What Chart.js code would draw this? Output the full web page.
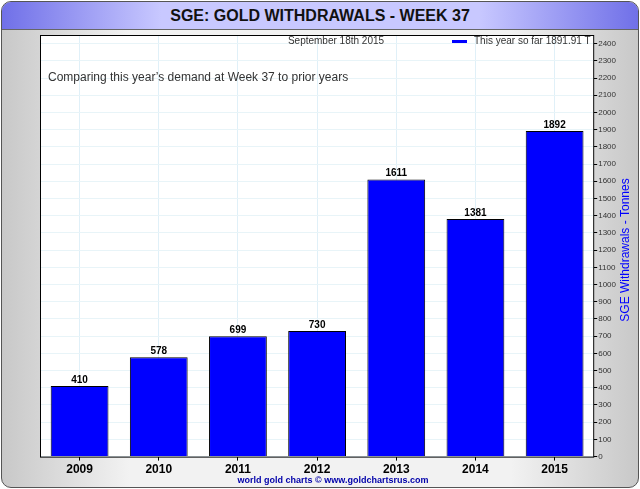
<!DOCTYPE html>
<html><head><meta charset="utf-8">
<script src="https://cdn.jsdelivr.net/npm/chart.js@4/dist/chart.umd.min.js"></script>
<style>
html,body{margin:0;padding:0;width:640px;height:489px;overflow:hidden;background:#fff;font-family:"Liberation Sans",Arial,sans-serif}
#frame{position:absolute;left:1px;top:1px;width:636px;height:485px;border:1px solid #555;border-radius:10px;background:linear-gradient(90deg,#c8c8c8 0%,#f2f2f2 20%,#f2f2f2 80%,#c8c8c8 100%);overflow:hidden}
#title{height:27px;background:linear-gradient(90deg,#7070e8 0%,#c8c8ff 25%,#c8c8ff 75%,#7070e8 100%);border-bottom:1px solid #666;text-align:center;font:bold 16px "Liberation Sans",Arial,sans-serif;line-height:28px;color:#111}
#c{position:absolute;left:0;top:0}
</style></head><body>
<div id="frame"><div id="title">SGE: GOLD WITHDRAWALS - WEEK 37</div></div>
<canvas id="c" width="640" height="489"></canvas>
<script>
const categories=["2009","2010","2011","2012","2013","2014","2015"];
const withdrawals=[410,578,699,730,1611,1381,1892];
const yTicks={min:0,max:2450,step:100,last:2400};
const dateText="September 18th 2015";
const legendText="This year so far 1891.91 T";
const noteText="Comparing this year\u2019s demand at Week 37 to prior years";
const footerText="world gold charts \u00a9 www.goldchartsrus.com";
const yTitle="SGE Withdrawals - Tonnes";
const deco={id:'deco',
beforeDraw(ch){const a=ch.chartArea,c=ch.ctx;c.save();c.fillStyle='#fff';c.fillRect(a.left,a.top,a.right-a.left,a.bottom-a.top);c.restore();},
afterDatasetsDraw(ch){const c=ch.ctx,a=ch.chartArea,m=ch.getDatasetMeta(0);c.save();
c.font='bold 10px "Liberation Sans",Arial';c.fillStyle='#000';c.textAlign='center';c.textBaseline='bottom';
m.data.forEach((b,i)=>c.fillText(withdrawals[i],b.x,b.y-1));
c.font='10px "Liberation Sans",Arial';c.fillStyle='#333';c.fillText(dateText,336,a.top+11);
c.textAlign='left';c.fillText(legendText,474,a.top+11);
c.fillStyle='#0000ff';c.fillRect(452,a.top+5,15,3);
c.font='12px "Liberation Sans",Arial';c.fillStyle='#333';c.textBaseline='middle';c.fillText(noteText,48,78);
c.font='bold 9px "Liberation Sans",Arial';c.fillStyle='#0000aa';c.textAlign='center';c.fillText(footerText,333,481);
c.save();c.translate(626,250);c.rotate(-Math.PI/2);c.font='12px "Liberation Sans",Arial';c.fillStyle='#0000ff';c.fillText(yTitle,0,0);c.restore();
c.strokeStyle='#000';c.lineWidth=1;c.strokeRect(a.left+0.5,a.top+0.5,a.right-a.left-1,a.bottom-a.top);
c.restore();}};
new Chart(document.getElementById('c'),{type:'bar',
data:{labels:categories,datasets:[{data:withdrawals,backgroundColor:'#0000ff',borderColor:'#000',borderWidth:1,barPercentage:0.73,categoryPercentage:1}]},
options:{responsive:false,animation:false,devicePixelRatio:1,
layout:{padding:{left:40,top:35,right:23,bottom:10}},
plugins:{legend:{display:false},tooltip:{enabled:false}},
scales:{x:{grid:{color:'#e0f0f8',offset:false,drawTicks:true,tickColor:'#000',tickLength:4},border:{display:false},
ticks:{color:'#000',padding:2,font:{size:12,weight:'bold',family:'"Liberation Sans",Arial'}}},
y:{position:'right',min:yTicks.min,max:yTicks.max,grid:{color:'#e8f4f8',tickColor:'#000',tickLength:3},border:{display:false},
afterBuildTicks:ax=>{const t=[];for(let v=yTicks.min;v<=yTicks.last;v+=yTicks.step)t.push({value:v});ax.ticks=t;},
ticks:{autoSkip:false,color:'#333',font:{size:8,family:'"Liberation Sans",Arial'},padding:1,callback:v=>String(v)}}}},
plugins:[deco]});
</script></body></html>
